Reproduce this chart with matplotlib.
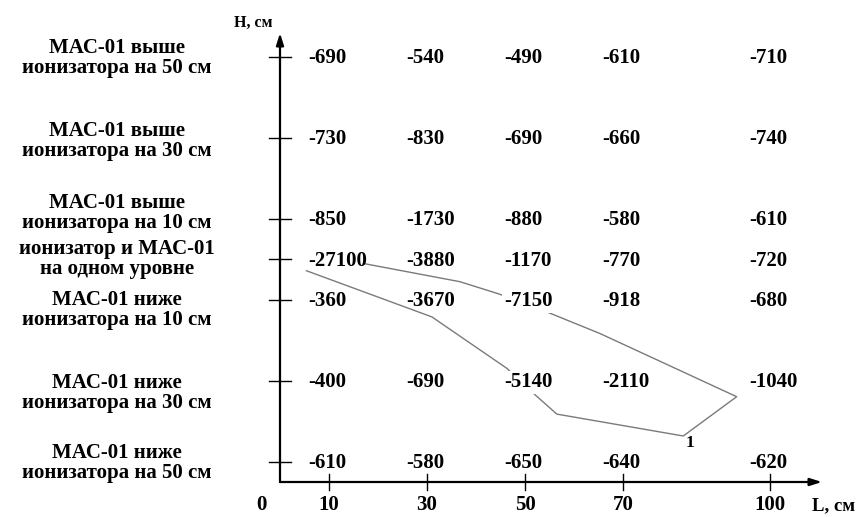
import matplotlib.pyplot as plt

plt.rcParams['font.family'] = ['Liberation Serif', 'DejaVu Serif']
plt.rcParams['font.weight'] = 'bold'

# расстояние от ионизатора L, см
L_ticks = [10, 30, 50, 70, 100]
# положение МАС-01 относительно ионизатора H, см
H_levels = [50, 30, 10, 0, -10, -30, -50]
row_labels = [
    'МАС-01 выше\nионизатора на 50 см',
    'МАС-01 выше\nионизатора на 30 см',
    'МАС-01 выше\nионизатора на 10 см',
    'ионизатор и МАС-01\nна одном уровне',
    'МАС-01 ниже\nионизатора на 10 см',
    'МАС-01 ниже\nионизатора на 30 см',
    'МАС-01 ниже\nионизатора на 50 см',
]

# измеренные значения по строкам (сверху вниз)
vals_h50 = [-690, -540, -490, -610, -710]
vals_h30 = [-730, -830, -690, -660, -740]
vals_h10 = [-850, -1730, -880, -580, -610]
vals_h0 = [-27100, -3880, -1170, -770, -720]
vals_hm10 = [-360, -3670, -7150, -918, -680]
vals_hm30 = [-400, -690, -5140, -2110, -1040]
vals_hm50 = [-610, -580, -650, -640, -620]
values = [vals_h50, vals_h30, vals_h10, vals_h0, vals_hm10, vals_hm30, vals_hm50]

# изолиния "1" (L, H)
iso_L = [5.4, 31.0, 46.3, 51.0, 56.5, 82.3, 93.2, 65.3, 53.1, 44.6, 36.7, 17.0]
iso_H = [-2.9, -14.3, -27.0, -32.4, -38.3, -43.7, -34.0, -18.4, -12.4, -8.6, -5.6, -1.1]

# масштаб рисунка: пикселей на см и положение начала координат
kx, ky = 4.9, 4.05
x0, y0 = 280, 259

fig = plt.figure(figsize=(8.64, 5.17), dpi=100)
ax = fig.add_axes([0, 0, 1, 1])
ax.set_xlim(-x0 / kx, (864 - x0) / kx)
ax.set_ylim((y0 - 517) / ky, y0 / ky)
ax.axis('off')

h_axis = (y0 - 482) / ky
h_top = (y0 - 33) / ky
l_end = (822 - x0) / kx

arrow = dict(arrowstyle='-|>,head_length=0.7,head_width=0.22', lw=1.6,
             color='black', shrinkA=0, shrinkB=0)
ax.annotate('', xy=(0, h_top), xytext=(0, h_axis), arrowprops=arrow)
ax.annotate('', xy=(l_end, h_axis), xytext=(0, h_axis), arrowprops=arrow)

# штрихи на осях
for h in H_levels:
    ax.plot([-2.2, 2.2], [h, h], color='black', lw=1.0)
for l in L_ticks:
    ax.plot([l, l], [h_axis - 2.0, h_axis + 2.0], color='black', lw=1.0)
    ax.text(l, -62.0, str(l), ha='center', va='baseline', fontsize=15)
ax.text(-3.7, -62.0, '0', ha='center', va='baseline', fontsize=15)
ax.text(108.6, -62.0, 'L, см', ha='left', va='baseline', fontsize=13.5)
ax.text(-5.5, 57.3, 'H, см', ha='center', va='baseline', fontsize=11.5)

# подписи строк
label_dy = [-0.4, -0.9, 1.4, 0, -2.6, -3.1, -0.4]
for h, lab, dy in zip(H_levels, row_labels, label_dy):
    ax.text(-33.3, h + dy, lab, ha='center', va='center', fontsize=15,
            multialignment='center', linespacing=1.0)

# значения в узлах; там, где изолиния проходит под числом, она скрыта
masked = {(4, 2), (5, 2)}
for i, (h, row) in enumerate(zip(H_levels, values)):
    for j, (l, v) in enumerate(zip(L_ticks, row)):
        t = ax.text(l - 4.3, h - 1.7, str(v), ha='left', va='baseline',
                    fontsize=15, zorder=3)
        if (i, j) in masked:
            t.set_bbox(dict(facecolor='white', edgecolor='none', pad=1.0))

ax.plot(iso_L, iso_H, color='#7a7a7a', lw=1.0, zorder=2)
ax.text(83.7, -45.4, '1', ha='center', va='center', fontsize=12.5, zorder=4)

fig.savefig('out.png', dpi=100)
